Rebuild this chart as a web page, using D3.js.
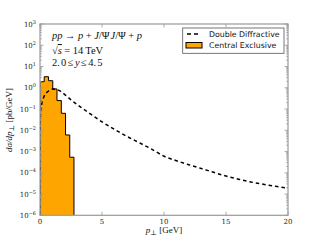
<!DOCTYPE html>
<html><head><meta charset="utf-8">
<script src="https://cdn.jsdelivr.net/npm/d3@7"></script>
<style>
body{margin:0;background:#fff;}
svg{display:block;}
</style></head>
<body><svg id="c" width="320" height="240"></svg>
<script>
// Data
const histEdges = [0, 0.34, 0.69, 1.03, 1.37, 1.72, 2.06, 2.4, 2.74];
const histValues = [1.93, 3.3, 2.15, 0.88, 0.25, 0.063, 0.006, 0.00054];
const ddP = [0.0, 0.02, 0.06, 0.14, 0.3, 0.56, 0.8, 1.05, 1.3, 1.6, 2.0, 2.5, 3.0, 3.5, 4.0, 4.5, 5.0, 6.0, 7.0, 8.0, 9.0, 10, 11, 12, 13, 14, 15, 16, 17, 18, 19, 20];
const ddValues = [1e-6, 0.025, 0.07, 0.17, 0.36, 0.61, 0.78, 0.87, 0.85, 0.72, 0.48, 0.27, 0.16, 0.1, 0.062, 0.039, 0.025, 0.011, 0.0052, 0.0026, 0.0013, 0.0006, 0.00037, 0.00024, 0.00016, 0.000105, 0.00007, 0.00005, 0.000037, 0.000029, 0.000023, 0.000019];
const xTicks = [0, 5, 10, 15, 20];
const yExps = [-6, -5, -4, -3, -2, -1, 0, 1, 2, 3];
const legendLabels = ["Double Diffractive", "Central Exclusive"];

const svg = d3.select("#c");
const L = 40, R = 288, T = 24, B = 215.3;
const x = d3.scaleLinear().domain([0, 20]).range([L, R]);
const y = d3.scaleLog().domain([1e-6, 1e3]).range([B, T]);

svg.append("clipPath").attr("id", "clp").append("rect")
  .attr("x", L).attr("y", T).attr("width", R - L).attr("height", B - T);

// histogram
const steps = histValues.map((v, i) => [histEdges[i], v]);
steps.push([histEdges[histEdges.length - 1], histValues[histValues.length - 1]]);
const area = d3.area().x(d => x(d[0])).y0(y(1e-6)).y1(d => y(d[1])).curve(d3.curveStepAfter);
const g = svg.append("g").attr("clip-path", "url(#clp)");
g.append("path").datum(steps).attr("d", area).attr("fill", "#FFA500").attr("stroke", "none");
const outline = [[0, 1e-6]].concat(steps).concat([[histEdges[histEdges.length - 1], 1e-6]]);
g.append("path").datum(outline)
  .attr("d", d3.line().x(d => x(d[0])).y(d => y(d[1])).curve(d3.curveStepAfter))
  .attr("fill", "none").attr("stroke", "#000").attr("stroke-width", 1);

// dashed curve
g.append("path").datum(ddP.map((p, i) => [p, ddValues[i]]))
  .attr("d", d3.line().x(d => x(d[0])).y(d => y(d[1])).curve(d3.curveMonotoneX))
  .attr("fill", "none").attr("stroke", "#000").attr("stroke-width", 1.5)
  .attr("stroke-dasharray", "3.5,3");

// frame
svg.append("rect").attr("x", L).attr("y", T).attr("width", R - L).attr("height", B - T)
  .attr("fill", "none").attr("stroke", "#999").attr("stroke-width", 1.2);

// ticks
const tk = svg.append("g").attr("stroke", "#999").attr("stroke-width", 0.8);
xTicks.forEach(t => {
  tk.append("line").attr("x1", x(t)).attr("x2", x(t)).attr("y1", B).attr("y2", B - 3.5);
  tk.append("line").attr("x1", x(t)).attr("x2", x(t)).attr("y1", T).attr("y2", T + 3.5);
});
yExps.forEach(e => {
  const v = Math.pow(10, e);
  tk.append("line").attr("x1", L).attr("x2", L + 3.5).attr("y1", y(v)).attr("y2", y(v));
  tk.append("line").attr("x1", R).attr("x2", R - 3.5).attr("y1", y(v)).attr("y2", y(v));
  if (e < 3) {
    for (let m = 2; m <= 9; m++) {
      const vv = m * v;
      tk.append("line").attr("x1", L).attr("x2", L + 1.8).attr("y1", y(vv)).attr("y2", y(vv));
      tk.append("line").attr("x1", R).attr("x2", R - 1.8).attr("y1", y(vv)).attr("y2", y(vv));
    }
  }
});

// tick labels
const serif = "'DejaVu Serif', 'Liberation Serif', serif";
xTicks.forEach(t => {
  svg.append("text").attr("x", x(t)).attr("y", B + 9).attr("text-anchor", "middle")
    .attr("font-family", serif).attr("font-size", 7).attr("fill", "#222").text(t);
});
yExps.forEach(e => {
  const t = svg.append("text").attr("x", L - 4).attr("y", y(Math.pow(10, e)) + 2.5)
    .attr("text-anchor", "end").attr("font-family", serif).attr("font-size", 7).attr("fill", "#222");
  t.append("tspan").text("10");
  t.append("tspan").attr("dy", -3).attr("font-size", 5).text(e < 0 ? "\u2212" + (-e) : e);
});

// axis labels
const math = "'Liberation Serif', 'DejaVu Serif', serif";
const xl = svg.append("text").attr("x", 164).attr("y", 233).attr("text-anchor", "middle")
  .attr("font-family", math).attr("font-size", 9).attr("fill", "#111");
xl.append("tspan").attr("font-style", "italic").text("p");
xl.append("tspan").attr("font-size", 7).attr("dy", 1.5).text("\u22A5");
xl.append("tspan").attr("dy", -1.5).text("  [GeV]");

const yl = svg.append("text").attr("transform", "translate(12,120) rotate(-90)")
  .attr("text-anchor", "middle").attr("font-family", math).attr("font-size", 9).attr("fill", "#111");
yl.append("tspan").attr("font-style", "italic").text("d\u03C3/dp");
yl.append("tspan").attr("font-size", 7).attr("dy", 1.5).text("\u22A5");
yl.append("tspan").attr("dy", -1.5).text("  [pb/GeV]");

// annotations
function part(t, s, it, dx) {
  const ts = t.append("tspan").text(s);
  if (it) ts.attr("font-style", "italic");
  if (dx) ts.attr("dx", dx);
  return ts;
}
const a1 = svg.append("text").attr("x", 52).attr("y", 39).attr("font-family", math).attr("font-size", 10.5).attr("fill", "#111");
part(a1, "pp", true);
part(a1, "\u2192", false, 2.5);
part(a1, "p", true, 2.5);
part(a1, "+", false, 2.5);
part(a1, "J", true, 2.5);
part(a1, "/\u03A8", false);
part(a1, "J", true, 1);
part(a1, "/\u03A8", false);
part(a1, "+", false, 2.5);
part(a1, "p", true, 2.5);

const a2 = svg.append("text").attr("x", 52).attr("y", 54).attr("font-family", math).attr("font-size", 10.5).attr("fill", "#111");
part(a2, "\u221A", false);
part(a2, "s", true).attr("text-decoration", "overline");
part(a2, "=", false, 2.5);
part(a2, "14", false, 2.5);
part(a2, "TeV", false, 2);

const a3 = svg.append("text").attr("x", 52).attr("y", 66).attr("font-family", math).attr("font-size", 10.5).attr("fill", "#111");
part(a3, "2.", false);
part(a3, "0", false, 1);
part(a3, "\u2264", false, 1.5);
part(a3, "y", true, 1.5);
part(a3, "\u2264", false, 1.5);
part(a3, "4.", false, 1.5);
part(a3, "5", false, 1);

// legend
const lg = svg.append("g");
lg.append("rect").attr("x", 182.7).attr("y", 28).attr("width", 101.3).attr("height", 25.3)
  .attr("fill", "#fff").attr("stroke", "#555").attr("stroke-width", 0.8);
lg.append("line").attr("x1", 187).attr("x2", 200).attr("y1", 34).attr("y2", 34)
  .attr("stroke", "#000").attr("stroke-width", 1.5).attr("stroke-dasharray", "4,3");
lg.append("rect").attr("x", 186).attr("y", 42.5).attr("width", 16).attr("height", 5.5)
  .attr("fill", "#FFA500").attr("stroke", "#000").attr("stroke-width", 1);
legendLabels.forEach((s, i) => {
  lg.append("text").attr("x", 209).attr("y", 37 + i * 11.3).attr("font-family", "'DejaVu Sans', sans-serif")
    .attr("font-size", 7.8).attr("fill", "#111").text(s);
});
</script></body></html>
